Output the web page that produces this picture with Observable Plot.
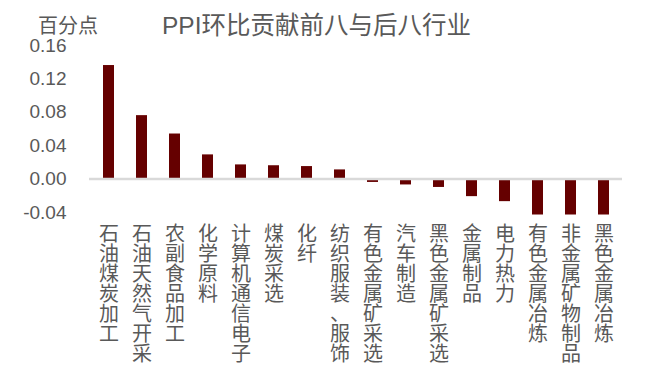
<!DOCTYPE html>
<html>
<head>
<meta charset="utf-8">
<script src="https://cdn.jsdelivr.net/npm/d3@7"></script>
<script src="https://cdn.jsdelivr.net/npm/@observablehq/plot@0.6"></script>
<style>
  html, body { margin: 0; padding: 0; background: #fff; }
  #wrap { position: relative; width: 656px; height: 392px; overflow: hidden; font-family: 'Liberation Sans', 'Noto Sans CJK SC', sans-serif; color: #595959; }
  #title { position: absolute; left: 162px; top: 10px; font-size: 24.5px; white-space: nowrap; line-height: 32px; }
  #unit { position: absolute; left: 38px; top: 12px; font-size: 20px; white-space: nowrap; line-height: 28px; }
  #chart { position: absolute; left: 0; top: 0; }
</style>
</head>
<body>
<div id="wrap">
  <div id="chart"></div>
  <div id="title">PPI环比贡献前八与后八行业</div>
  <div id="unit">百分点</div>
</div>
<script>
const industries = ["石油煤炭加工", "石油天然气开采", "农副食品加工", "化学原料", "计算机通信电子", "煤炭采选", "化纤", "纺织服装、服饰",
  "有色金属矿采选", "汽车制造", "黑色金属矿采选", "金属制品", "电力热力", "有色金属冶炼", "非金属矿物制品", "黑色金属冶炼"];
const contributions = [0.136, 0.076, 0.054, 0.029, 0.017, 0.016, 0.015, 0.011,
  -0.004, -0.007, -0.010, -0.021, -0.027, -0.043, -0.043, -0.043];
const yTicks = [-0.04, 0.00, 0.04, 0.08, 0.12, 0.16];

const data = industries.map((name, i) => ({name, value: contributions[i]}));

const chart = Plot.plot({
  width: 656,
  height: 392,
  marginTop: 45,
  marginBottom: 180,
  marginLeft: 89,
  marginRight: 34,
  style: {fontFamily: "'Liberation Sans','Noto Sans CJK SC',sans-serif", color: "#595959", background: "white", overflow: "visible"},
  x: {domain: industries, paddingInner: 0.67, paddingOuter: 0.335, align: 0.5},
  y: {domain: [-0.04, 0.16]},
  marks: [
    Plot.barY(data, {x: "name", y: "value", fill: "#650000"}),
    Plot.ruleY([0], {stroke: "#d9d9d9", strokeWidth: 2.5}),
    Plot.axisY({ticks: yTicks, tickFormat: d => d.toFixed(2), tickSize: 0, tickPadding: 23, fontSize: 19, fill: "#595959", label: null}),
    Plot.axisX({tickFormat: d => [...d].join("\n"), tickSize: 0, tickPadding: 14, fontSize: 20, lineHeight: 1.0, fill: "#595959", label: null})
  ]
});
document.getElementById("chart").appendChild(chart);
</script>
</body>
</html>
